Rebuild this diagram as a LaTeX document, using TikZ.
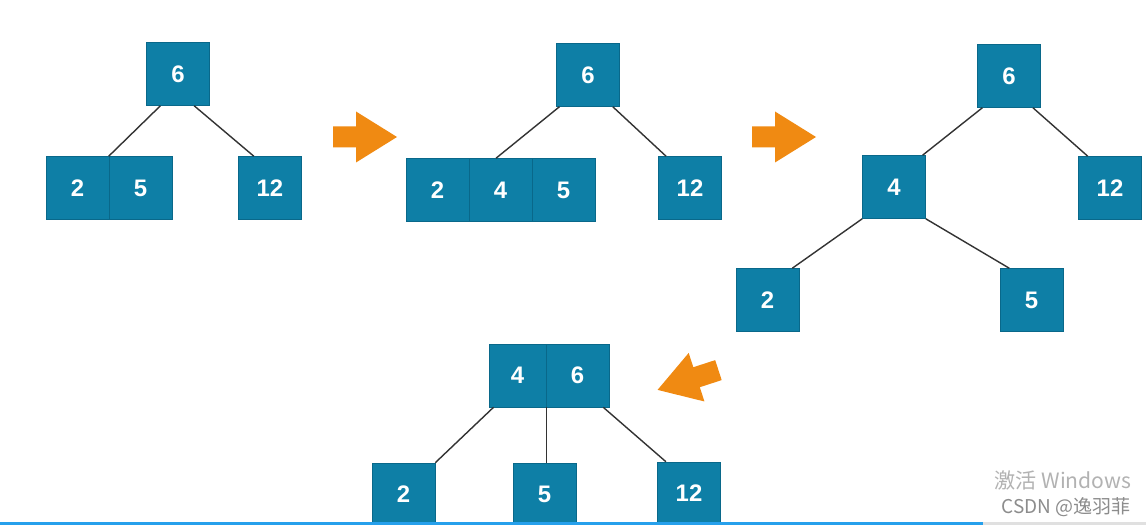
\documentclass[tikz,border=0pt]{standalone}
\usepackage{fontspec}
\setmainfont{Liberation Sans}
\newfontfamily\cjkfont{Noto Sans CJK SC}

\definecolor{keyblue}{RGB}{14,127,166}
\definecolor{keyedge}{RGB}{9,104,138}
\definecolor{arroworange}{RGB}{240,138,18}
\definecolor{barblue}{RGB}{38,160,236}

\tikzset{
    key/.style={draw=keyedge, fill=keyblue, text=white, line width=0.4pt,
        minimum width=1.575cm, minimum height=1.575cm, inner sep=0pt,
        font=\fontsize{17}{20}\selectfont\bfseries},
    edge/.style={draw=black!80, line width=1pt},
    fatarrow/.pic={
        \fill[arroworange] (-32,-10.5) -- (-9,-10.5) -- (-9,-25.5) -- (32,0)
            -- (-9,25.5) -- (-9,10.5) -- (-32,10.5) -- cycle;
    }
}

\begin{document}
\begin{tikzpicture}[x=0.025cm, y=-0.025cm]
    % Khung hình
    \useasboundingbox (0,0) rectangle (1146,525);
    \fill[white] (0,0) rectangle (1146,525);
    \clip (0,0) rectangle (1146,525);

    % 1. Cây thứ nhất: nút 2|5 bên trái
    \node[key] (t1r) at (178,74) {6};
    \node[key] (t1a) at (77.5,188) {2};
    \node[key] (t1b) at (140.5,188) {5};
    \node[key] (t1c) at (270,188) {12};
    \draw[edge] (t1r.-119) -- (t1b.north west);
    \draw[edge] (t1r.-63) -- (t1c.117);

    % 2. Cây thứ hai: chèn 4 vào nút lá
    \node[key] (t2r) at (588,75) {6};
    \node[key] (t2a) at (437.5,190) {2};
    \node[key] (t2b) at (500.5,190) {4};
    \node[key] (t2c) at (563.5,190) {5};
    \node[key] (t2d) at (690,188) {12};
    \draw[edge] (t2r.-132) -- (t2b.98);
    \draw[edge] (t2r.-52) -- (t2d.127);

    % 3. Cây thứ ba: tách nút, 4 đi lên
    \node[key] (t3r) at (1009,76) {6};
    \node[key] (t3a) at (894,187) {4};
    \node[key] (t3b) at (1110,188) {12};
    \node[key] (t3c) at (767.5,300) {2};
    \node[key] (t3d) at (1031.5,300) {5};
    \draw[edge] (t3r.-130) -- (t3a.48);
    \draw[edge] (t3r.-53) -- (t3b.125);
    \draw[edge] (t3a.south west) -- (t3c.52);
    \draw[edge] (t3a.south east) -- (t3d.125);

    % 4. Cây thứ tư: gộp 4 vào gốc
    \node[key, minimum width=1.425cm] (t4a) at (517.5,375.5) {4};
    \node[key] (t4b) at (577.5,375.5) {6};
    \node[key] (t4c) at (403.5,494.5) {2};
    \node[key] (t4d) at (544.5,494.5) {5};
    \node[key] (t4e) at (689,493.5) {12};
    \draw[edge] (t4a.-127) -- (t4c.north east);
    \draw[edge] (t4a.south east) -- (t4a.south east |- t4d.north);
    \draw[edge] (t4b.-51) -- (t4e.126);

    % 5. Các mũi tên cam
    \pic at (365,137) {fatarrow};
    \pic at (784,137) {fatarrow};
    \pic[rotate=198] at (688,380) {fatarrow};

    % 6. Chữ mờ góc phải và thanh tiến trình
    \node[text=black!30, font=\fontsize{15}{17}\selectfont] (wmark) at (1063,480)
        {\cjkfont 激活 Windows};
    \node[text=black!45, font=\fontsize{13.5}{15}\selectfont] (csdn) at (1066,507)
        {\cjkfont CSDN @逸羽菲};
    \fill[barblue] (0,522) rectangle (983,525);
    \fill[black!12] (983,522) rectangle (1146,525);

\end{tikzpicture}
\end{document}
